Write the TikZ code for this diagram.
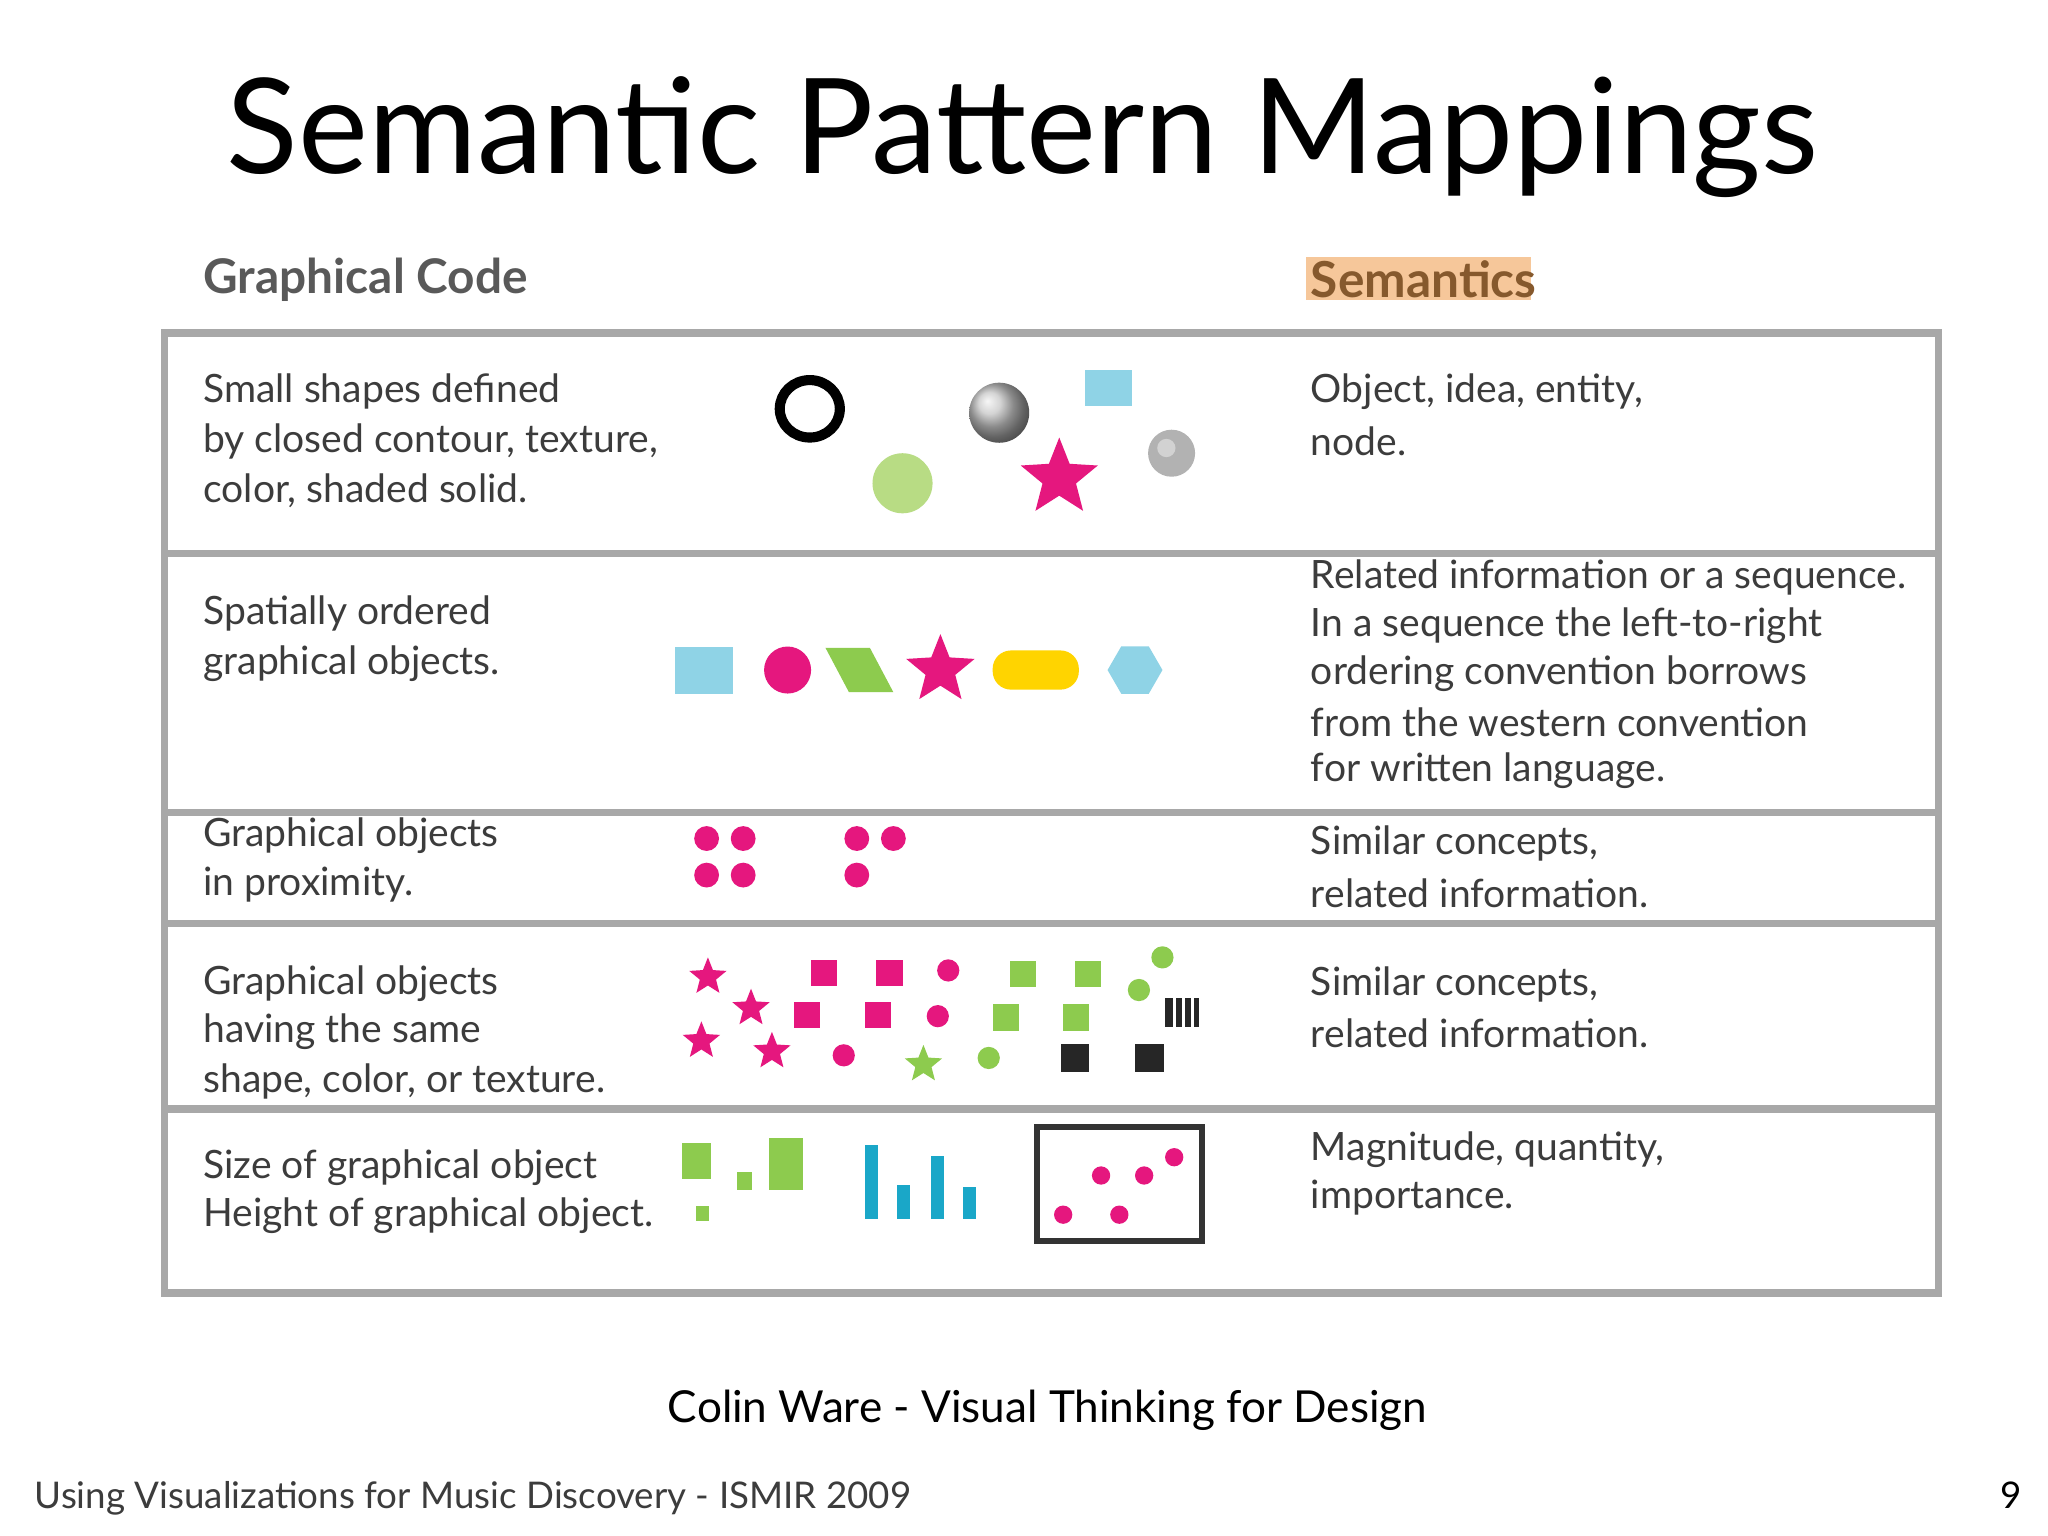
\documentclass[tikz,border=0pt]{standalone}
\usepackage{fontspec}
\setmainfont{Lato}
\usetikzlibrary{shapes.geometric}
\definecolor{mag}{HTML}{E5177E}
\definecolor{cy}{HTML}{8FD3E6}
\definecolor{cyd}{HTML}{1AA7C8}
\definecolor{gr}{HTML}{8DCB4E}
\definecolor{grl}{HTML}{B8DC84}
\definecolor{yel}{HTML}{FFD400}
\definecolor{txt}{HTML}{3C3C3C}
\definecolor{ln}{HTML}{A8A8A8}
\definecolor{hl}{HTML}{F6C79A}
\tikzset{
 body/.style={anchor=west,text=txt,font=\fontsize{8.5}{10}\selectfont,inner sep=0},
 sep/.style={draw=ln,line width=1.6pt},
 strr/.style={star,star points=5,star point ratio=2.3,fill=#1,draw=none,inner sep=0,minimum size=0.3cm},
 dot/.style={circle,fill=#1,inner sep=0,minimum size=0.17cm},
 sq/.style={rectangle,fill=#1,inner sep=0,minimum size=0.2cm},
}
\begin{document}
\begin{tikzpicture}[x=0.01cm,y=-0.01cm]
\useasboundingbox (0,0) rectangle (1568,1176);
\fill[white] (0,0) rectangle (1568,1176);
\node[font=\fontsize{28.8}{34}\selectfont] (title) at (783,105) {Semantic Pattern Mappings};
\node[anchor=west,inner sep=0,text=txt!85,font=\fontsize{10.4}{12}\selectfont\bfseries] (gc) at (155,214) {Graphical Code};
\fill[hl] (1000,197) rectangle (1172,230);
\node[anchor=west,inner sep=0,text=brown!70!black,font=\fontsize{10.8}{13}\selectfont\bfseries] (sem) at (1003,214) {Semantics};
% table
\draw[sep] (126,255) rectangle (1484,990);
\foreach \y in {424,622,707,849} \draw[sep] (126,\y) -- (1484,\y);
% row1
\node[body] (t1a) at (155,300) {Small shapes defined};
\node[body] (t1b) at (155,338) {by closed contour, texture,};
\node[body] (t1c) at (155,376) {color, shaded solid.};
\node[body] (s1a) at (1003,300) {Object, idea, entity,};
\node[body] (s1b) at (1003,338) {node.};
\draw[line width=2.2pt] (620,313) ellipse (23 and 22);
\shade[ball color=gray!45] (765,316) circle (23);
\fill[cy] (831,283) rectangle (867,311);
\fill[grl] (691,370) circle (23);
\node[strr=mag,minimum size=0.62cm] (st1) at (811,366) {};
\fill[gray!60] (897,347) circle (18);
\fill[gray!35] (893,343) circle (7);
% row2
\node[body] (t2a) at (155,470) {Spatially ordered};
\node[body] (t2b) at (155,508) {graphical objects.};
\foreach \l [count=\i] in {Related information or a sequence.,In a sequence the left-to-right,ordering convention borrows,from the western convention,for written language.}
 \node[body] (s2\i) at (1003,{442+37*(\i-1)}) {\l};
\fill[cy] (517,495) rectangle (561,531);
\fill[mag] (603,513) circle (18);
\fill[gr] (632,496) -- (666,496) -- (684,530) -- (650,530) -- cycle;
\node[strr=mag,minimum size=0.55cm] (st2) at (720,513) {};
\fill[yel,rounded corners=4pt] (760,498) rectangle (826,528);
\node[regular polygon,regular polygon sides=6,fill=cy,inner sep=0,minimum size=0.42cm] (hx) at (869,513) {};
% row3
\node[body] (t3a) at (155,640) {Graphical objects};
\node[body] (t3b) at (155,677) {in proximity.};
\node[body] (s3a) at (1003,646) {Similar concepts,};
\node[body] (s3b) at (1003,684) {related information.};
\foreach \p in {(541,642),(569,642),(541,670),(569,670),(656,642),(684,642),(656,670)}
 \node[dot=mag,minimum size=0.19cm] at \p {};
% row4
\node[body] (t4a) at (155,753) {Graphical objects};
\node[body] (t4b) at (155,790) {having the same};
\node[body] (t4c) at (155,828) {shape, color, or texture.};
\node[body] (s4a) at (1003,754) {Similar concepts,};
\node[body] (s4b) at (1003,791) {related information.};
\foreach \p in {(542,748),(575,772),(537,797),(591,805)} \node[strr=mag] at \p {};
\foreach \p in {(631,745),(681,745),(618,777),(672,777)} \node[sq=mag] at \p {};
\foreach \p in {(726,743),(718,778),(646,808)} \node[dot=mag] at \p {};
\foreach \p in {(783,746),(833,746),(770,779),(824,779)} \node[sq=gr] at \p {};
\foreach \p in {(890,733),(872,758),(757,810)} \node[dot=gr] at \p {};
\node[strr=gr] at (707,815) {};
\foreach \p in {(823,810),(880,810)} \node[sq=black!85,minimum size=0.22cm] at \p {};
\fill[black!85] (892,764) rectangle (918,786);
\foreach \x in {898,905,912} \fill[white] (\x,764) rectangle (\x+2,786);
% row5
\node[body] (t5a) at (155,894) {Size of graphical object};
\node[body] (t5b) at (155,931) {Height of graphical object.};
\node[body] (s5a) at (1003,880) {Magnitude, quantity,};
\node[body] (s5b) at (1003,917) {importance.};
\fill[gr] (522,875) rectangle (544,903);
\fill[gr] (564,897) rectangle (576,911);
\fill[gr] (589,871) rectangle (615,911);
\fill[gr] (533,923) rectangle (543,935);
\fill[cyd] (662,877) rectangle (672,933);
\fill[cyd] (687,907) rectangle (697,933);
\fill[cyd] (713,885) rectangle (723,933);
\fill[cyd] (737,909) rectangle (747,933);
\draw[line width=1.3pt,black!80] (794,863) rectangle (920,950);
\foreach \p in {(899,886),(876,900),(843,900),(814,930),(857,930)} \node[dot=mag,minimum size=0.14cm] at \p {};
% footer
\node[font=\fontsize{9.6}{12}\selectfont] (cite) at (802,1080) {Colin Ware - Visual Thinking for Design};
\node[anchor=west,inner sep=0,text=txt,font=\fontsize{8}{10}\selectfont] (foot) at (26,1147) {Using Visualizations for Music Discovery - ISMIR 2009};
\node[font=\fontsize{8}{10}\selectfont] (pg) at (1540,1145) {9};
\end{tikzpicture}
\end{document}
